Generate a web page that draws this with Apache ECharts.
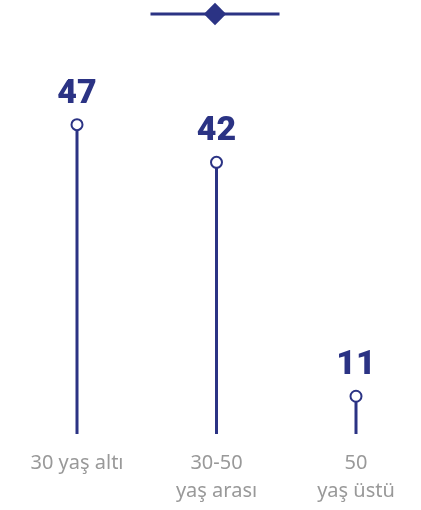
<!DOCTYPE html>
<html>
<head>
<meta charset="utf-8">
<script src="https://cdn.jsdelivr.net/npm/echarts@6/dist/echarts.min.js"></script>
<style>html,body{margin:0;padding:0;background:#fff}#c{width:421px;height:510px}</style>
</head>
<body>
<div id="c"></div>
<script>
const categories = ['30 yaş altı', '30-50\nyaş arası', '50\nyaş üstü'];
const values = [47, 42, 11];
const seriesName = 'Yaş';
const navy = '#2b3384';

const chart = echarts.init(document.getElementById('c'));
chart.setOption({
  animation: false,
  backgroundColor: '#fff',
  grid: { left: 77, right: 65, top: 102, bottom: 76, containLabel: false },
  legend: {
    data: [seriesName],
    left: 144, top: -5,
    itemWidth: 129, itemHeight: 28,
    formatter: () => '',
    itemStyle: { color: navy, borderWidth: 0 },
    lineStyle: { color: navy, width: 3, opacity: 1 }
  },
  xAxis: {
    type: 'category',
    data: categories,
    boundaryGap: false,
    axisLine: { show: false },
    axisTick: { show: false },
    axisLabel: { color: '#999999', fontSize: 20, lineHeight: 28, margin: 15, fontFamily: 'Noto Sans' }
  },
  yAxis: { type: 'value', min: 6, max: 50, show: false, splitLine: { show: false } },
  series: [
    {
      type: 'bar',
      data: values,
      barWidth: 3,
      itemStyle: { color: navy },
      silent: true
    },
    {
      name: seriesName,
      type: 'line',
      data: values.map(v => ({ value: v, symbol: 'emptyCircle' })),
      symbol: 'diamond',
      symbolSize: 11,
      lineStyle: { width: 0, opacity: 0 },
      itemStyle: { color: navy, borderWidth: 3 },
      label: {
        show: true, position: 'top', distance: 7,
        color: navy, fontSize: 34, fontWeight: 900, fontFamily: 'Roboto'
      },
      z: 5
    }
  ]
});
</script>
</body>
</html>
